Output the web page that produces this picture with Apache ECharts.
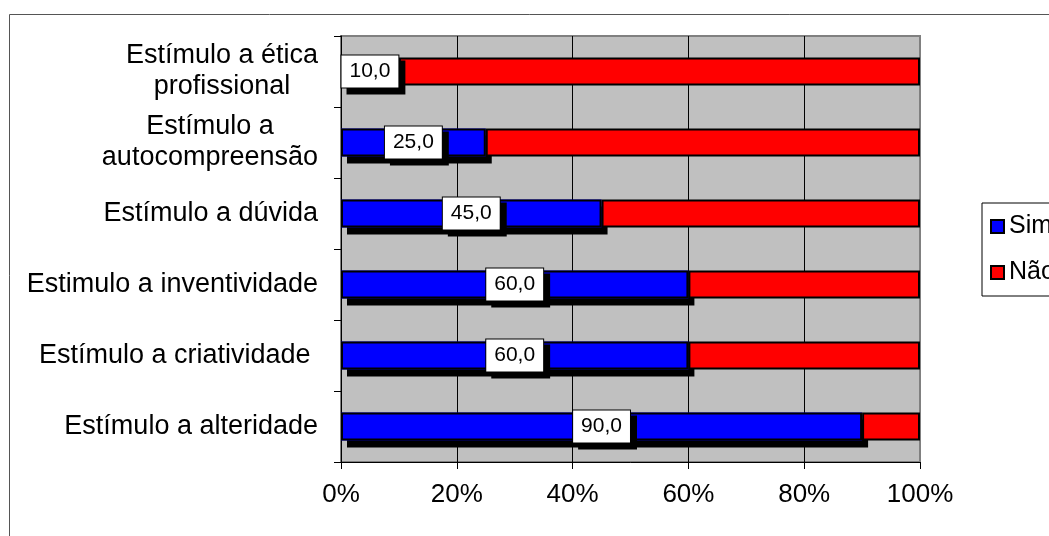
<!DOCTYPE html>
<html>
<head>
<meta charset="utf-8">
<script src="https://cdn.jsdelivr.net/npm/echarts@6/dist/echarts.min.js"></script>
<style>html,body{margin:0;padding:0;background:#fff}#c{width:1049px;height:536px}</style>
</head>
<body>
<div id="c"></div>
<script>
// categories listed bottom to top
var categories = [
  'Estímulo a alteridade',
  'Estímulo a criatividade ',
  'Estimulo a inventividade',
  'Estímulo a dúvida',
  'Estímulo a\nautocompreensão',
  'Estímulo a ética\nprofissional'
];
var simValues = [90, 60, 60, 45, 25, 10];
var naoValues = [10, 40, 40, 55, 75, 90];
var seriesNames = ['Sim', 'Não'];
var xTicks = [0, 20, 40, 60, 80, 100];

var FONT = '"Liberation Sans", Arial, sans-serif';
var chart = echarts.init(document.getElementById('c'));
chart.setOption({
  animation: false,
  textStyle: { fontFamily: FONT, color: '#000' },
  graphic: [{
    type: 'rect', silent: true, z: -10,
    shape: { x: 9.5, y: 14.5, width: 1200, height: 700 },
    style: { fill: '#fff', stroke: '#555', lineWidth: 1 }
  }],
  grid: {
    left: 341, top: 36, right: 129, bottom: 74,
    show: true, backgroundColor: '#c0c0c0', borderColor: '#808080', borderWidth: 2
  },
  legend: {
    orient: 'vertical', left: 982, top: 203,
    data: seriesNames,
    icon: 'rect',
    padding: [11, 8, 11, 8],
    itemGap: 21, itemWidth: 13, itemHeight: 13,
    backgroundColor: '#fff', borderColor: '#000', borderWidth: 1,
    textStyle: { fontSize: 25, fontFamily: FONT, color: '#000', lineHeight: 25 },
    itemStyle: { borderColor: '#000', borderWidth: 2, shadowColor: 'transparent', shadowOffsetX: 0, shadowOffsetY: 0 }
  },
  xAxis: {
    type: 'value', min: xTicks[0], max: xTicks[xTicks.length - 1], interval: 20,
    axisLine: { show: true, lineStyle: { color: '#000', width: 1 } },
    axisTick: { show: true, length: 7, lineStyle: { color: '#000' } },
    axisLabel: { formatter: '{value}%', fontSize: 26, fontFamily: FONT, color: '#000', margin: 20 },
    splitLine: { show: true, showMaxLine: false, lineStyle: { color: '#000', width: 1 } }
  },
  yAxis: {
    type: 'category', data: categories,
    axisLine: { show: true, lineStyle: { color: '#000', width: 1 } },
    axisTick: { show: true, length: 7, lineStyle: { color: '#000' } },
    axisLabel: {
      margin: 23, fontSize: 27, fontFamily: FONT, color: '#000',
      formatter: function (v) {
        return v.split('\n').map(function (l) { return '{c|' + l + '}'; }).join('\n');
      },
      rich: { c: { align: 'center', fontSize: 27, lineHeight: 31, fontFamily: FONT, color: '#000' } }
    },
    splitLine: { show: false }
  },
  series: [{
    name: seriesNames[0], type: 'bar', stack: 'total', data: simValues, barWidth: 28, barGap: '-100%',
    itemStyle: { color: '#0000ff', borderWidth: 0,
      shadowColor: '#000', shadowBlur: 0, shadowOffsetX: 6, shadowOffsetY: 7 }
  }, {
    name: seriesNames[1], type: 'bar', stack: 'total', data: naoValues, barWidth: 28, barGap: '-100%',
    itemStyle: { color: '#ff0000', borderColor: '#000', borderWidth: 2 }
  }, {
    name: seriesNames[0] + ' ', type: 'bar', stack: 'outline', data: simValues, barWidth: 28, barGap: '-100%',
    itemStyle: { color: 'rgba(0,0,0,0)', borderColor: '#000', borderWidth: 2 },
    label: {
      show: true, position: 'inside',
      formatter: function (p) { return p.value.toFixed(1).replace('.', ','); },
      fontSize: 21, lineHeight: 21, fontFamily: FONT, color: '#000',
      backgroundColor: '#fff', borderColor: '#000', borderWidth: 1, padding: [5, 8, 6, 8],
      shadowColor: '#000', shadowBlur: 0, shadowOffsetX: 6, shadowOffsetY: 6
    }
  }]
});
</script>
</body>
</html>
